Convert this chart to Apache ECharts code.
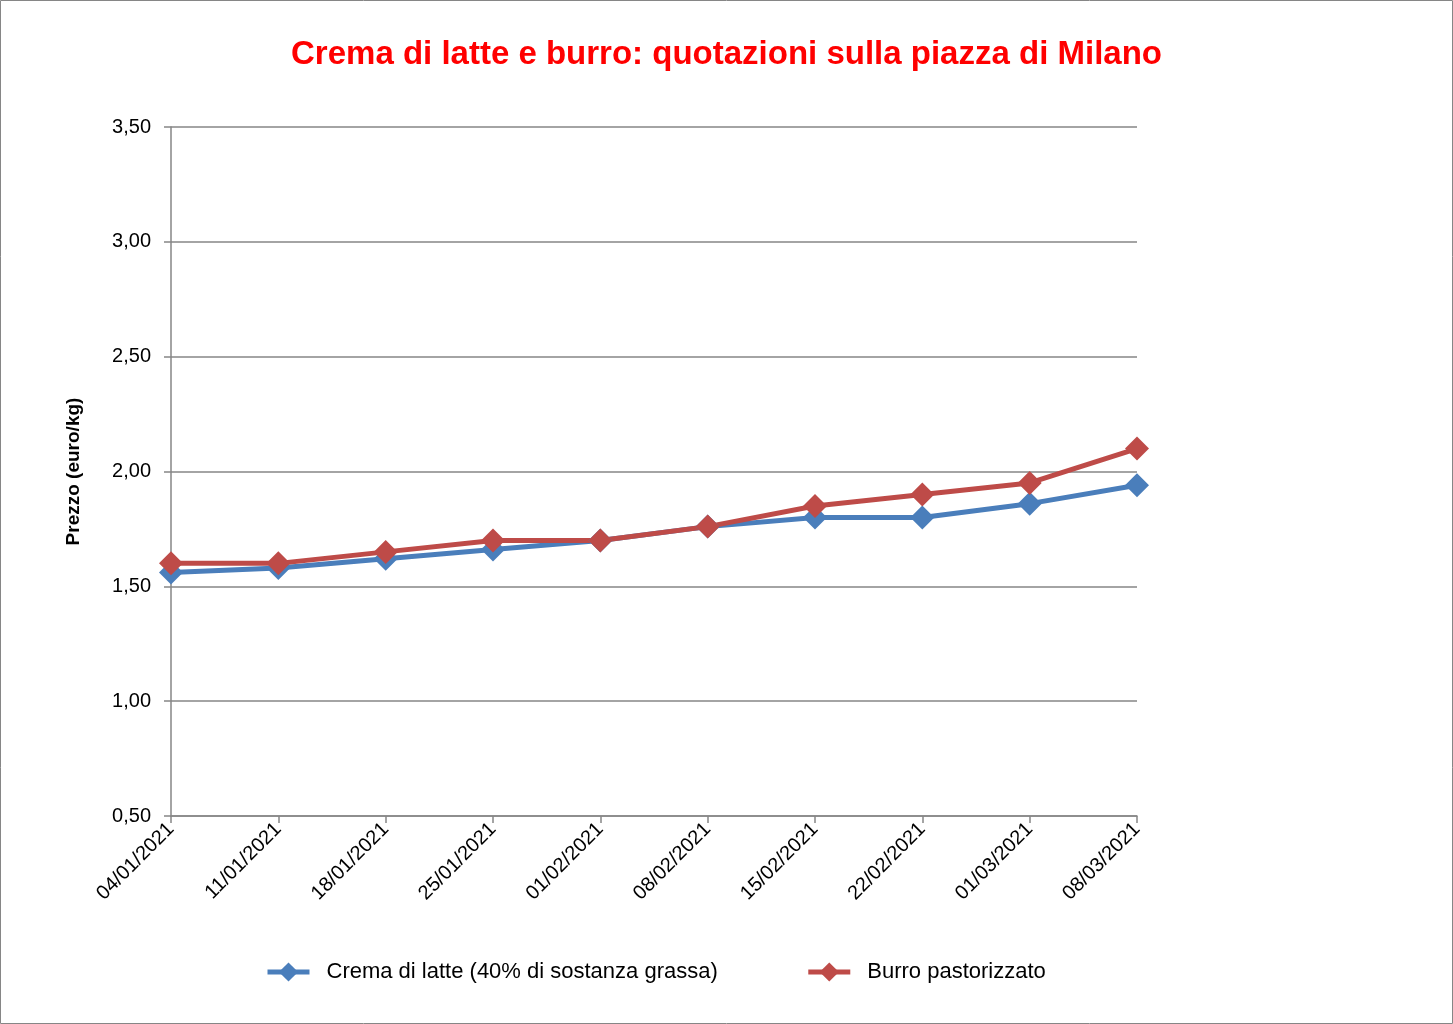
<!DOCTYPE html>
<html>
<head>
<meta charset="utf-8">
<script src="https://cdn.jsdelivr.net/npm/echarts@6/dist/echarts.min.js"></script>
<style>
html,body{margin:0;padding:0;background:#fff;}
#c{width:1453px;height:1024px;}
</style>
</head>
<body>
<div id="c"></div>
<script>
const categories = ['04/01/2021','11/01/2021','18/01/2021','25/01/2021','01/02/2021','08/02/2021','15/02/2021','22/02/2021','01/03/2021','08/03/2021'];
const crema = [1.56,1.58,1.62,1.66,1.70,1.76,1.80,1.80,1.86,1.94];
const burro = [1.60,1.60,1.65,1.70,1.70,1.76,1.85,1.90,1.95,2.10];
const seriesNames = ['Crema di latte (40% di sostanza grassa)','Burro pastorizzato'];
const titleText = 'Crema di latte e burro: quotazioni sulla piazza di Milano';
const yName = 'Prezzo (euro/kg)';

const chart = echarts.init(document.getElementById('c'), null, {renderer:'canvas'});
const FONT = 'Liberation Sans, sans-serif';
const gray = '#868686';
chart.setOption({
  animation:false,
  backgroundColor:'#fff',
  title:{
    text:titleText, left:'center', top:33,
    textStyle:{color:'#FF0000', fontSize:33, fontWeight:'bold', fontFamily:FONT}
  },
  graphic:[{type:'rect', shape:{x:0.5,y:0.5,width:1452,height:1023}, style:{fill:'none', stroke:gray, lineWidth:1}, silent:true}],
  legend:{
    top:956, left:260, itemGap:88, itemWidth:42, itemHeight:24,
    lineStyle:{width:5},
    textStyle:{fontSize:22, fontFamily:FONT, color:'#000', padding:[0,0,0,12]},
    data:seriesNames
  },
  grid:{left:171, right:316, top:127, bottom:208, containLabel:false},
  xAxis:{
    type:'category', data:categories, boundaryGap:false,
    axisLine:{lineStyle:{color:gray, width:1.5}},
    axisTick:{show:true, alignWithLabel:true, length:7, lineStyle:{color:gray, width:1.5}},
    axisLabel:{rotate:45, fontSize:20, fontFamily:FONT, color:'#000', margin:10, interval:0},
    splitLine:{show:false}
  },
  yAxis:{
    type:'value', min:0.5, max:3.5, interval:0.5,
    name:yName, nameLocation:'middle', nameGap:88, nameRotate:90,
    nameTextStyle:{fontSize:19, fontWeight:'bold', fontFamily:FONT, color:'#000'},
    axisLine:{show:true, lineStyle:{color:gray, width:1.5}},
    axisTick:{show:true, length:7, lineStyle:{color:gray, width:1.5}},
    axisLabel:{fontSize:20, fontFamily:FONT, color:'#000', margin:20,
      formatter:v=>v.toFixed(2).replace('.',',')},
    splitLine:{lineStyle:{color:gray, width:1.5}}
  },
  series:[
    {name:seriesNames[0], type:'line', data:crema, symbol:'diamond', symbolSize:24,
     lineStyle:{color:'#4A7EBB', width:5}, itemStyle:{color:'#4A7EBB'}},
    {name:seriesNames[1], type:'line', data:burro, symbol:'diamond', symbolSize:24,
     lineStyle:{color:'#BE4B48', width:5}, itemStyle:{color:'#BE4B48'}}
  ]
});
</script>
</body>
</html>
